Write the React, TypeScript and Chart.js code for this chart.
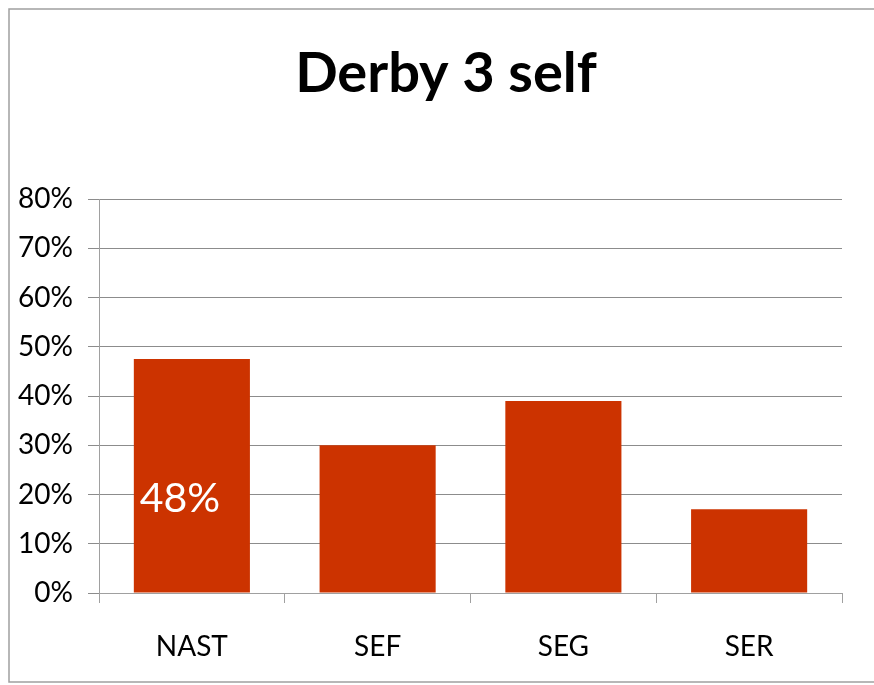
import React, { useEffect, useRef } from "react";
import { Chart, registerables } from "chart.js";

Chart.register(...registerables);

const categories = ["NAST", "SEF", "SEG", "SER"];
const values = [0.475, 0.30, 0.39, 0.17];
const labelShown = ["48%", "", "", ""];
const titleText = "Derby 3 self";

const FONT = "Lato, 'Open Sans', sans-serif";

const framePlugin = {
  id: "frame",
  beforeDraw(chart: any) {
    const ctx = chart.ctx;
    ctx.save();
    ctx.strokeStyle = "#a0a0a0";
    ctx.lineWidth = 1.5;
    ctx.beginPath();
    ctx.moveTo(880, 9);
    ctx.lineTo(9, 9);
    ctx.lineTo(9, 682);
    ctx.lineTo(880, 682);
    ctx.stroke();
    ctx.fillStyle = "#000";
    ctx.font = `bold 56px ${FONT}`;
    ctx.textAlign = "center";
    ctx.textBaseline = "alphabetic";
    ctx.fillText(titleText, 446, 92);
    ctx.restore();
  },
};

const barLabelPlugin = {
  id: "barLabel",
  afterDatasetsDraw(chart: any) {
    const ctx = chart.ctx;
    const meta = chart.getDatasetMeta(0);
    const y = chart.scales.y.getPixelForValue(0.2);
    ctx.save();
    ctx.fillStyle = "#ffffff";
    ctx.font = `41px ${FONT}`;
    ctx.textAlign = "center";
    ctx.textBaseline = "middle";
    meta.data.forEach((bar: any, i: number) => {
      if (labelShown[i]) ctx.fillText(labelShown[i], bar.x - 12, y + 4);
    });
    ctx.restore();
  },
};

export default function App() {
  const ref = useRef<HTMLCanvasElement>(null);
  useEffect(() => {
    document.body.style.margin = "0";
    const chart = new Chart(ref.current!, {
      type: "bar",
      data: {
        labels: categories,
        datasets: [
          {
            data: values,
            backgroundColor: "#cc3300",
            barPercentage: 0.625,
            categoryPercentage: 1,
          },
        ],
      },
      options: {
        animation: false,
        responsive: false,
        layout: { padding: { left: 0, right: 32, top: 199, bottom: 0 } },
        plugins: {
          legend: { display: false },
          tooltip: { enabled: false },
          title: { display: false },
        },
        scales: {
          x: {
            afterFit(scale: any) {
              scale.height = 92;
            },
            grid: {
              drawOnChartArea: false,
              drawTicks: true,
              tickLength: 10,
              color: "#a0a0a0",
              offset: true,
            },
            border: { color: "#a0a0a0", width: 1 },
            ticks: {
              color: "#000",
              font: { family: FONT, size: 28 },
              padding: 27,
            },
          },
          y: {
            min: 0,
            max: 0.8,
            afterFit(scale: any) {
              scale.width = 99;
            },
            grid: { color: "#8c8c8c", tickLength: 11 },
            border: { color: "#a0a0a0", width: 1 },
            ticks: {
              stepSize: 0.1,
              color: "#000",
              font: { family: FONT, size: 28 },
              padding: 15,
              callback: (v: any) => Math.round(Number(v) * 100) + "%",
            },
          },
        },
      },
      plugins: [framePlugin, barLabelPlugin],
    });
    return () => chart.destroy();
  }, []);
  return <canvas ref={ref} width={874} height={685} style={{ display: "block" }} />;
}
